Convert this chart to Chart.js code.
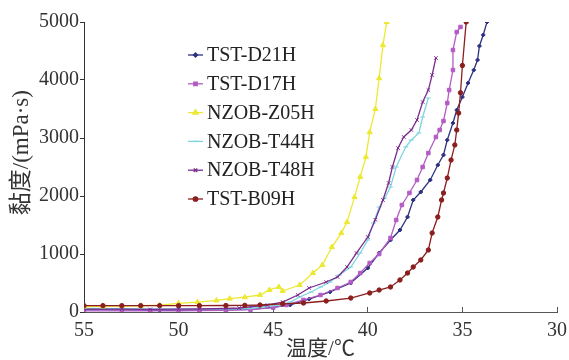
<!DOCTYPE html>
<html><head><meta charset="utf-8">
<script src="https://cdn.jsdelivr.net/npm/chart.js@4.4.1/dist/chart.umd.min.js"></script>
<style>html,body{margin:0;padding:0;background:#fff}</style>
</head><body>
<canvas id="c" width="569" height="360"></canvas>
<script>
// Series names (legend order)
const seriesNames = ["TST-D21H","TST-D17H","NZOB-Z05H","NZOB-T44H","NZOB-T48H","TST-B09H"];
// Temperature (°C) / viscosity (mPa·s) readings for each series
const d21hT = [55.0,53.0,51.0,48.9,47.5,46.2,45.0,44.1,43.1,42.0,40.9,40.0,39.4,38.8,38.3,37.9,37.6,37.2,36.7,36.3,36.0,35.8,35.5,35.3,35.0,34.7,34.4,34.2,34.1,33.9,33.7];
const d21hV = [40,35,30,30,35,45,80,121,224,345,500,759,1017,1241,1414,1638,1931,2069,2276,2534,2707,2965,3258,3482,3706,3948,4172,4345,4586,4776,5000];
const d17hT = [55.0,53.0,51.5,50.0,48.9,47.5,46.2,45.0,44.3,43.4,42.5,41.6,40.9,40.4,39.9,39.4,38.8,38.5,38.2,37.8,37.4,37.1,36.8,36.4,36.2,36.0,35.8,35.7,35.5,35.5,35.3,35.1];
const d17hV = [20,20,20,20,22,28,40,75,121,207,293,414,517,672,845,1000,1276,1586,1845,2052,2276,2500,2741,3017,3138,3293,3603,3827,4172,4517,4827,4914];
const z05hT = [55.0,54.0,53.0,52.0,51.0,50.0,49.0,48.0,47.3,46.5,45.7,45.2,44.7,44.5,43.6,42.9,42.4,41.9,41.4,41.1,40.7,40.4,40.1,39.9,39.6,39.4,39.2,39.0];
const z05hV = [95,98,103,108,118,150,170,200,230,255,293,380,431,362,465,672,810,1120,1360,1550,1980,2330,2670,3100,3500,4030,4600,5000];
const t44hT = [55.0,53.0,51.5,50.0,48.9,47.5,46.2,44.6,44.1,43.6,43.0,42.5,42.0,41.5,40.9,40.4,40.0,39.7,39.4,39.1,38.8,38.5,38.0,37.7,37.3,37.1,36.8];
const t44hV = [60,58,55,52,50,52,60,121,172,259,345,431,517,638,776,1017,1241,1534,1810,1965,2155,2500,2845,2965,3086,3362,3690];
const t48hT = [55.0,53.0,51.5,50.0,48.9,47.5,46.8,45.3,44.5,43.7,43.1,42.2,41.6,41.1,40.6,40.0,39.6,39.2,38.9,38.7,38.4,38.1,37.7,37.4,37.1,36.8,36.6,36.4];
const t48hV = [50,48,45,48,52,60,69,121,172,293,414,517,603,776,1017,1293,1590,1931,2224,2500,2827,3017,3138,3310,3620,3827,4086,4380];
const b09hT = [55.0,54.0,53.0,52.0,51.0,50.0,48.9,47.5,46.5,45.7,44.5,43.4,42.2,40.9,39.9,39.4,38.8,38.3,37.9,37.6,37.2,36.8,36.6,36.3,36.1,36.0,35.8,35.6,35.4,35.3,35.2,35.1,35.0,34.8];
const b09hV = [110,110,110,110,110,110,110,112,115,121,140,155,190,241,328,379,431,552,672,776,897,1069,1362,1638,1931,2052,2310,2620,2880,3138,3430,3780,4250,5000];
// Axis ticks
const xTicks = [55,50,45,40,35,30];
const yTicks = [0,1000,2000,3000,4000,5000];

const pts = (T,V) => T.map((t,i)=>({x:t,y:V[i]}));
const serif = "'Liberation Serif','Noto Sans CJK SC',serif";

function mk(i, T, V, color, style, r, order){
  return {label:seriesNames[i], data:pts(T,V), showLine:true, borderColor:color, backgroundColor:color,
    borderWidth:1.3, pointStyle:style, pointRadius:r, pointBorderWidth:1, pointHoverRadius:r, tension:0, order:order};
}

const legendPlugin = {
  id:'inLegend',
  afterDraw(chart){
    const ctx = chart.ctx, ca = chart.chartArea;
    ctx.save();
    chart.data.datasets.forEach((ds,i)=>{
      const y = ca.top + 33 + i*28.8;
      const x0 = ca.left + 104;
      ctx.strokeStyle = ds.borderColor; ctx.fillStyle = ds.borderColor; ctx.lineWidth = 1.3;
      ctx.beginPath(); ctx.moveTo(x0, y); ctx.lineTo(x0+15, y); ctx.stroke();
      Chart.helpers.drawPoint(ctx, {pointStyle:ds.pointStyle, radius:ds.pointRadius, borderWidth:1}, x0+7.5, y);
      ctx.fillStyle = '#222'; ctx.font = "20px " + serif; ctx.textBaseline = 'middle'; ctx.textAlign='left';
      ctx.fillText(ds.label, x0+19, y+1);
    });
    ctx.restore();
  }
};

new Chart(document.getElementById('c'), {
  type:'scatter',
  data:{datasets:[
    mk(0,d21hT,d21hV,'#2E3180','rectRot',2,5),
    mk(1,d17hT,d17hV,'#B45CC4','rect',2.5,4),
    mk(2,z05hT,z05hV,'#EDE832','triangle',3,1),
    mk(3,t44hT,t44hV,'#7ED4DE','line',2.5,3),
    mk(4,t48hT,t48hV,'#7A2C8E','crossRot',2.5,2),
    mk(5,b09hT,b09hV,'#8B1E1E','circle',2.2,0)
  ]},
  options:{
    responsive:false, animation:false, devicePixelRatio:1,
    layout:{padding:{top:22,right:12,left:0,bottom:0}},
    plugins:{legend:{display:false}, tooltip:{enabled:false}},
    scales:{
      x:{type:'linear', reverse:true, min:30, max:55,
        afterFit(s){ s.height = 48; s.paddingRight = 0; s.paddingLeft = 0; },
        afterBuildTicks(s){ s.ticks = xTicks.map(v=>({value:v})); },
        grid:{display:true, drawOnChartArea:false, drawTicks:true, tickLength:-5, color:'#555', lineWidth:1},
        border:{display:true, color:'#555', width:1},
        ticks:{padding:12, color:'#333', font:{family:serif, size:20}, maxRotation:0, autoSkip:false,
          callback:(v)=>String(v)},
        title:{display:true, text:'温度/℃', color:'#333', font:{family:serif, size:21, lineHeight:1}, padding:0}
      },
      y:{min:0, max:5000,
        afterFit(s){ s.width = 84; },
        afterBuildTicks(s){ s.ticks = yTicks.map(v=>({value:v})); },
        grid:{display:true, drawOnChartArea:false, drawTicks:true, tickLength:4, color:'#333', lineWidth:1},
        border:{display:true, color:'#333', width:1},
        ticks:{padding:1, color:'#333', font:{family:serif, size:20}, autoSkip:false,
          callback:(v)=>String(v)},
        title:{display:true, text:'     黏度/(mPa·s)', color:'#333', font:{family:serif, size:23, lineHeight:1.2}, padding:8}
      }
    }
  },
  plugins:[legendPlugin]
});
</script>
</body></html>
